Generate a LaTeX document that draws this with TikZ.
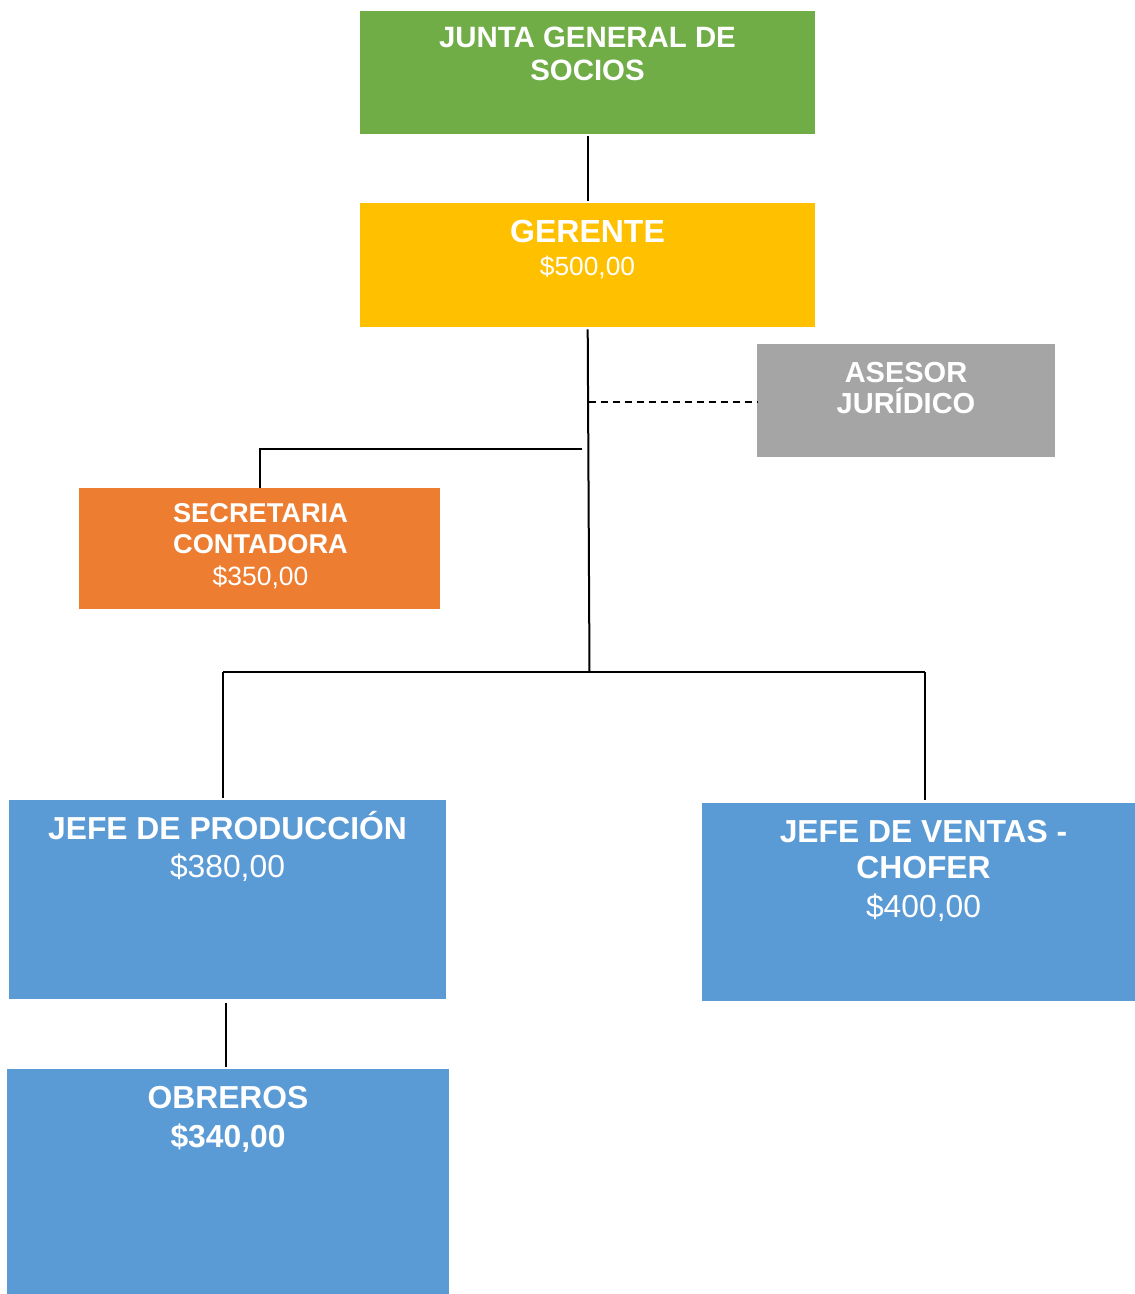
\documentclass[tikz,border=0pt]{standalone}
\usepackage{fontspec}
\setmainfont{Liberation Sans}
\definecolor{cgreen}{HTML}{70AD47}
\definecolor{cgold}{HTML}{FFC000}
\definecolor{cgray}{HTML}{A5A5A5}
\definecolor{corange}{HTML}{ED7D31}
\definecolor{cblue}{HTML}{5B9BD5}
\begin{document}
\begin{tikzpicture}[x=1pt,y=-1pt,
  box/.style={rectangle, draw=none, inner sep=0pt, anchor=north west},
  lbl/.style={text=white, anchor=base, inner sep=0pt},
  bf/.style={lbl, font=\fontsize{#1}{#1}\selectfont\bfseries},
  rg/.style={lbl, font=\fontsize{#1}{#1}\selectfont},
  link/.style={draw=black, line width=2pt},
  dlink/.style={draw=black, line width=1.6pt, dash pattern=on 7pt off 5pt}
]
\useasboundingbox (0,0) rectangle (1135,1294);

% boxes
\node[box, fill=cgreen,  minimum width=455pt, minimum height=123pt] (junta)  at (360,11)  {};
\node[box, fill=cgold,   minimum width=455pt, minimum height=124pt] (gerente) at (360,203) {};
\node[box, fill=cgray,   minimum width=298pt, minimum height=113pt] (asesor)  at (757,344) {};
\node[box, fill=corange, minimum width=361pt, minimum height=121pt] (secre)   at (79,488)  {};
\node[box, fill=cblue,   minimum width=437pt, minimum height=199pt] (prod)    at (9,800)   {};
\node[box, fill=cblue,   minimum width=433pt, minimum height=198pt] (ventas)  at (702,803) {};
\node[box, fill=cblue,   minimum width=442pt, minimum height=225pt] (obreros) at (7,1069)  {};

% texts
\node[bf=29.4] at (587.5,47) {JUNTA GENERAL DE};
\node[bf=29.4] at (587.5,80) {SOCIOS};

\node[bf=32] at (587.5,242) {GERENTE};
\node[rg=26.3] at (587.5,275) {\$500,00};

\node[bf=29] at (906,382) {ASESOR};
\node[bf=29] at (906,413) {JURÍDICO};

\node[bf=27.2] at (260.5,522) {SECRETARIA};
\node[bf=27.2] at (260.5,553) {CONTADORA};
\node[rg=26.5] at (260.5,585) {\$350,00};

\node[bf=31.8] at (227.5,839) {JEFE DE PRODUCCIÓN};
\node[rg=31.8] at (227.5,877) {\$380,00};

\node[bf=31.8] at (923.5,842) {JEFE DE VENTAS -};
\node[bf=31.8] at (923.5,878) {CHOFER};
\node[rg=31.8] at (923.5,917) {\$400,00};

\node[bf=31.8] at (228,1108) {OBREROS};
\node[bf=31.8] at (228,1147) {\$340,00};

% connector points
\coordinate (trunk) at (589.5,672);
\coordinate (adv)   at (588.5,402);
\coordinate (sj)    at (582,448.5);
\coordinate (sl)    at (260,448.5);
\coordinate (bl)    at (223,672);
\coordinate (br)    at (925,672);

% connectors
\draw[link] ([yshift=-2pt]junta.south) -- ([yshift=2pt]gerente.north);
\draw[link] ([yshift=-2pt]gerente.south) -- (trunk);
\draw[dlink] (adv) -- (asesor.west |- adv);
\draw[link] (sj) -- (sl) -- (sl |- secre.north);
\draw[link] (bl) -- (br);
\draw[link] (bl) -- ([yshift=2pt]bl |- prod.north);
\draw[link] (br) -- ([yshift=3pt]br |- ventas.north);
\draw[link] ([xshift=-1.5pt,yshift=-4pt]prod.south) -- ([xshift=-1.5pt,yshift=2pt]prod.south |- obreros.north);
\end{tikzpicture}
\end{document}
